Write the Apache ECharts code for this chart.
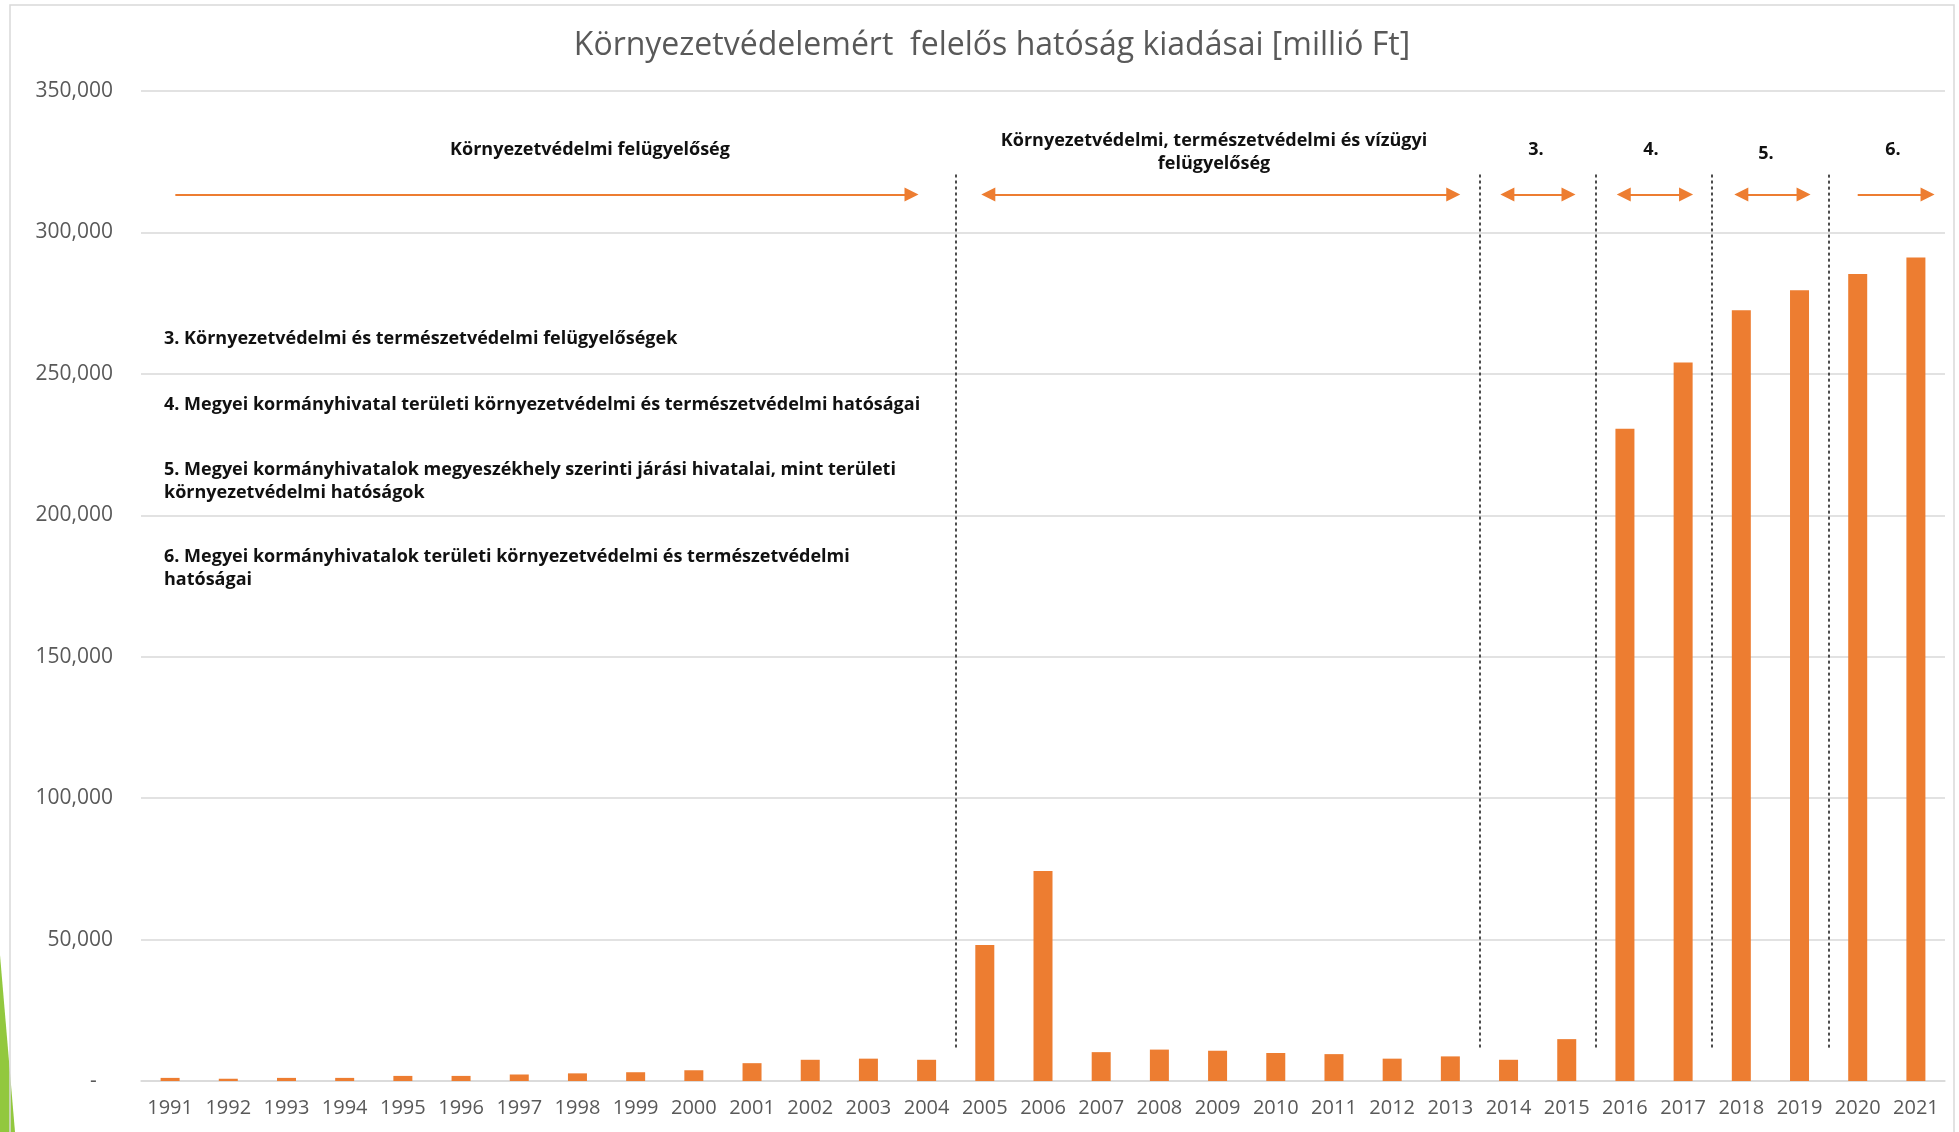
<!DOCTYPE html>
<html>
<head>
<meta charset="utf-8">
<title>Környezetvédelemért felelős hatóság kiadásai</title>
<script src="https://cdn.jsdelivr.net/npm/echarts@6/dist/echarts.min.js"></script>
<style>
  html, body { margin: 0; padding: 0; background: #fff; }
  #chart { width: 1959px; height: 1132px; }
</style>
</head>
<body>
<div id="chart"></div>
<script>
// years on the x axis
const years = [
  "1991", "1992", "1993", "1994", "1995", "1996", "1997", "1998", "1999", "2000",
  "2001", "2002", "2003", "2004", "2005", "2006", "2007", "2008", "2009", "2010",
  "2011", "2012", "2013", "2014", "2015", "2016", "2017", "2018", "2019", "2020", "2021"
];
// kiadások, millió Ft
const spending = [
  1100, 800, 1100, 1100, 1800, 1800, 2300, 2700, 3100, 3800,
  6300, 7500, 7900, 7500, 48100, 74200, 10200, 11100, 10700, 9900,
  9500, 7900, 8700, 7500, 14800, 230600, 254000, 272500, 279600, 285300, 291100
];
// first year of each new authority (dotted separators)
const periodStarts = ["2005", "2014", "2016", "2018", "2020"];
const yMax = 350000;
const yStep = 50000;

// arrows above the bars, in category index units
const arrows = [
  { from: 0.09, to: 12.74, both: false },
  { from: 14.06, to: 22.05, both: true },
  { from: 22.98, to: 24.03, both: true },
  { from: 24.98, to: 26.05, both: true },
  { from: 27.0, to: 28.07, both: true },
  { from: 29.0, to: 30.2, both: false }
];
const arrowLevel = 313400;
const sepBottom = 11800;
const sepTop = 321000;

const orange = "#ED7D31";
const grey = "#595959";

const chart = echarts.init(document.getElementById("chart"));

const sepLines = periodStarts.map(y => {
  const x = years.indexOf(y) - 0.5;
  return [{ coord: [x, sepBottom] }, { coord: [x, sepTop] }];
});
const arrowLines = arrows.map(a => [
  { coord: [a.from, arrowLevel], symbol: a.both ? "triangle" : "none" },
  { coord: [a.to, arrowLevel], symbol: "triangle" }
]);

const boldFont = 'bold 18px "Open Sans"';
function note(text, x, y, align) {
  return {
    type: "text",
    x: x,
    y: y,
    silent: true,
    style: {
      text: text,
      font: boldFont,
      fill: "#111",
      textAlign: align || "left",
      textVerticalAlign: "middle",
      lineHeight: 23
    }
  };
}

chart.setOption({
  animation: false,
  title: {
    text: "Környezetvédelemért  felelős hatóság kiadásai [millió Ft]",
    left: 987,
    textAlign: "center",
    top: 25,
    textStyle: {
      fontFamily: "Open Sans",
      fontWeight: "normal",
      fontSize: 32,
      color: grey
    }
  },
  grid: { left: 141, right: 14, top: 91, bottom: 51 },
  xAxis: [
    {
      type: "category",
      data: years,
      axisLine: { lineStyle: { color: "#D9D9D9", width: 1.5 } },
      axisTick: { show: false },
      axisLabel: {
        interval: 0,
        margin: 17,
        color: grey,
        fontFamily: "Open Sans",
        fontSize: 20
      }
    },
    {
      type: "value",
      min: -0.5,
      max: years.length - 0.5,
      show: false
    }
  ],
  yAxis: {
    type: "value",
    min: 0,
    max: yMax,
    interval: yStep,
    axisLine: { show: false },
    axisTick: { show: false },
    splitLine: { lineStyle: { color: "#D9D9D9", width: 1.5 } },
    axisLabel: {
      margin: 28,
      color: grey,
      fontFamily: "Open Sans",
      fontSize: 21,
      formatter: v => (v === 0 ? "-   " : v.toLocaleString("en-US"))
    }
  },
  series: [
    {
      name: "kiadás",
      type: "bar",
      data: spending,
      barWidth: 19,
      itemStyle: { color: orange },
      silent: true
    },
    {
      name: "separators",
      type: "line",
      xAxisIndex: 1,
      data: [],
      silent: true,
      markLine: {
        silent: true,
        symbol: "none",
        label: { show: false },
        lineStyle: { color: "#3a3a3a", type: [3, 3], width: 1.8 },
        emphasis: { disabled: true },
        data: sepLines
      }
    },
    {
      name: "arrows",
      type: "line",
      xAxisIndex: 1,
      data: [],
      silent: true,
      markLine: {
        silent: true,
        symbolSize: [14, 14],
        label: { show: false },
        lineStyle: { color: orange, type: "solid", width: 2 },
        itemStyle: { color: orange },
        emphasis: { disabled: true },
        data: arrowLines
      }
    }
  ],
  graphic: [
    {
      type: "polygon",
      silent: true,
      z: -1,
      shape: { points: [[0, 955], [0, 1132], [15, 1132]] },
      style: { fill: "#92C83E" }
    },
    {
      type: "rect",
      silent: true,
      shape: { x: 10, y: 5, width: 1944, height: 1140 },
      style: { fill: null, stroke: "#D9D9D9", lineWidth: 1.5 }
    },
    note("Környezetvédelmi felügyelőség", 590, 150, "center"),
    note("Környezetvédelmi, természetvédelmi és vízügyi\nfelügyelőség", 1214, 152, "center"),
    note("3.", 1536, 150, "center"),
    note("4.", 1651, 150, "center"),
    note("5.", 1766, 154, "center"),
    note("6.", 1893, 150, "center"),
    note("3. Környezetvédelmi és természetvédelmi felügyelőségek", 164, 339),
    note("4. Megyei kormányhivatal területi környezetvédelmi és természetvédelmi hatóságai", 164, 405),
    note("5. Megyei kormányhivatalok megyeszékhely szerinti járási hivatalai, mint területi\nkörnyezetvédelmi hatóságok", 164, 481),
    note("6. Megyei kormányhivatalok területi környezetvédelmi és természetvédelmi\nhatóságai", 164, 568)
  ]
});
</script>
</body>
</html>
